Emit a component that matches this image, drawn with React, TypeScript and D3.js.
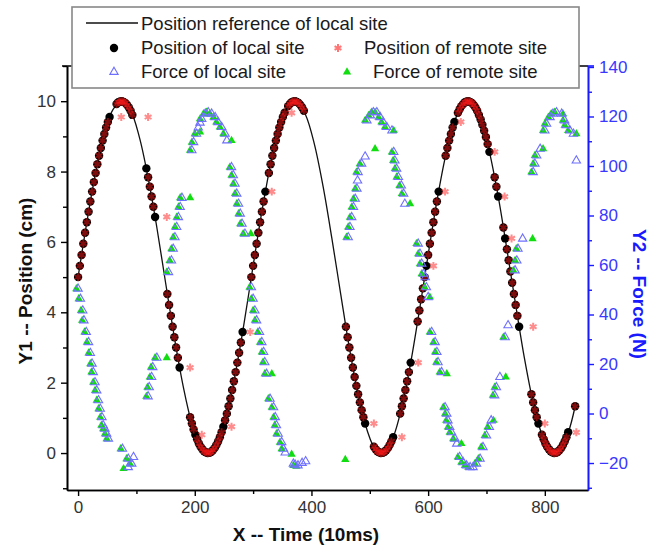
import React, { useEffect, useRef } from "react";
import * as d3 from "d3";

// reference trajectory of the local site (time in 10ms, position in cm)
const refLine: [number, number][] = [
  [0, 5.0], [15, 6.56], [30, 7.96], [45, 9.07], [60, 9.77], [75, 10.0], [90, 9.73], [105, 8.98], [120, 7.83], [135, 6.41],
  [150, 4.84], [165, 3.29], [180, 1.91], [195, 0.84], [210, 0.18], [225, 0.01], [240, 0.33], [255, 1.12], [270, 2.3], [285, 3.74],
  [300, 5.32], [315, 6.86], [330, 8.21], [345, 9.25], [360, 9.86], [375, 9.99], [390, 9.61], [405, 8.78], [420, 7.57], [435, 6.1],
  [450, 4.53], [465, 2.99], [480, 1.67], [495, 0.67], [510, 0.11], [525, 0.03], [540, 0.45], [555, 1.32], [570, 2.56], [585, 4.05],
  [600, 5.63], [615, 7.16], [630, 8.45], [645, 9.41], [660, 9.92], [675, 9.95], [690, 9.47], [705, 8.56], [720, 7.3], [735, 5.79],
  [750, 4.21], [765, 2.7], [780, 1.44], [795, 0.53], [810, 0.05], [825, 0.08], [840, 0.58], [852, 1.33],
];

const localPos: [number, number][] = [
  [0, 5.0], [3, 5.32], [6, 5.63], [9, 5.95], [12, 6.26], [15, 6.56], [18, 6.86], [21, 7.15], [24, 7.43], [27, 7.7],
  [30, 7.96], [33, 8.21], [36, 8.45], [39, 8.67], [42, 8.88], [45, 9.07], [48, 9.25], [51, 9.41], [54, 9.55],
  [66, 9.92], [69, 9.97], [72, 9.99], [75, 10.0], [78, 9.98], [81, 9.95], [84, 9.89], [87, 9.82], [90, 9.73], [93, 9.61],
  [117, 8.09], [120, 7.84], [123, 7.57], [126, 7.29], [129, 7.0], [132, 6.71],
  [153, 4.52], [156, 4.21], [159, 3.9], [162, 3.59], [165, 3.29], [168, 3.0], [171, 2.71], [174, 2.43],
  [192, 1.02], [195, 0.84], [198, 0.67], [201, 0.52], [204, 0.39], [207, 0.27], [210, 0.18], [213, 0.11], [216, 0.05], [219, 0.02],
  [222, 0.0], [225, 0.01], [228, 0.03], [231, 0.08], [234, 0.14], [237, 0.23], [240, 0.33], [243, 0.45], [246, 0.59], [249, 0.75],
  [252, 0.93], [255, 1.12], [258, 1.33], [261, 1.55], [264, 1.79], [267, 2.04], [270, 2.3], [273, 2.57], [276, 2.85], [279, 3.14], [282, 3.44],
  [297, 5.0], [300, 5.32], [303, 5.63], [306, 5.95], [309, 6.26], [312, 6.56], [315, 6.86], [318, 7.15], [321, 7.43],
  [327, 7.96], [330, 8.21], [333, 8.45], [336, 8.67], [339, 8.88], [342, 9.07], [345, 9.25], [348, 9.41], [351, 9.55], [354, 9.67],
  [360, 9.86], [363, 9.92], [366, 9.97], [369, 9.99], [372, 10.0], [375, 9.98], [378, 9.95], [381, 9.89], [384, 9.82], [387, 9.73],
  [459, 3.59], [462, 3.29], [465, 3.0], [468, 2.71], [471, 2.43], [474, 2.16], [477, 1.91], [480, 1.67], [483, 1.44], [486, 1.22], [489, 1.02], [492, 0.84],
  [507, 0.18], [510, 0.11], [513, 0.05], [516, 0.02], [519, 0.0], [522, 0.01], [525, 0.03], [528, 0.08], [531, 0.14], [534, 0.23], [537, 0.33], [540, 0.45],
  [552, 1.12], [555, 1.33], [558, 1.55], [561, 1.79], [564, 2.04], [567, 2.3], [570, 2.57],
  [582, 3.74], [585, 4.05], [588, 4.37], [591, 4.68], [594, 5.0], [597, 5.32], [600, 5.63], [603, 5.95], [606, 6.26], [609, 6.56], [612, 6.86], [615, 7.15], [618, 7.43],
  [630, 8.45], [633, 8.67], [636, 8.88], [639, 9.07], [642, 9.25], [645, 9.41],
  [651, 9.67], [654, 9.77], [657, 9.86], [660, 9.92], [663, 9.97], [666, 9.99], [669, 10.0], [672, 9.98], [675, 9.95], [678, 9.89], [681, 9.82], [684, 9.73],
  [687, 9.61], [690, 9.48], [693, 9.33], [696, 9.16], [699, 8.98], [702, 8.78], [705, 8.56],
  [714, 7.84], [717, 7.57], [720, 7.29],
  [729, 6.41], [732, 6.1], [735, 5.79], [738, 5.48], [741, 5.16], [744, 4.84], [747, 4.52], [750, 4.21], [753, 3.9], [756, 3.59],
  [777, 1.67], [780, 1.44], [783, 1.22], [786, 1.02], [789, 0.84],
  [795, 0.52], [798, 0.39], [801, 0.27], [804, 0.18], [807, 0.11], [810, 0.05], [813, 0.02], [816, 0.0], [819, 0.01], [822, 0.03],
  [825, 0.08], [828, 0.14], [831, 0.23], [834, 0.33], [837, 0.45], [840, 0.59],
  [852, 1.33],
];

const remotePos: [number, number][] = [
  [0, 5.0], [3, 5.32], [6, 5.63], [9, 5.95], [12, 6.26], [15, 6.56], [18, 6.86], [21, 7.15], [24, 7.43], [27, 7.7],
  [30, 7.96], [33, 8.21], [36, 8.45], [39, 8.67], [42, 8.88], [45, 9.07], [48, 9.25], [51, 9.41], [74, 9.55],
  [66, 9.92], [69, 9.97], [72, 9.99], [75, 10.0], [78, 9.98], [81, 9.95], [84, 9.89], [87, 9.82], [90, 9.73], [93, 9.61],
  [120, 9.55], [120, 7.84], [123, 7.57], [126, 7.29], [129, 7.0], [152, 6.71],
  [153, 4.52], [156, 4.21], [159, 3.9], [162, 3.59], [165, 3.29], [168, 3.0], [171, 2.71], [192, 2.43],
  [192, 1.02], [195, 0.84], [198, 0.67], [212, 0.52], [204, 0.39], [207, 0.27], [210, 0.18], [213, 0.11], [216, 0.05], [219, 0.02],
  [222, 0.0], [225, 0.01], [228, 0.03], [231, 0.08], [234, 0.14], [237, 0.23], [240, 0.33], [243, 0.45], [246, 0.59], [263, 0.75],
  [252, 0.93], [255, 1.12], [258, 1.33], [261, 1.55], [264, 1.79], [267, 2.04], [270, 2.3], [273, 2.57], [276, 2.85], [279, 3.14], [295, 3.44],
  [297, 5.0], [300, 5.32], [303, 5.63], [306, 5.95], [309, 6.26], [312, 6.56], [315, 6.86], [318, 7.15], [332, 7.43],
  [327, 7.96], [330, 8.21], [333, 8.45], [336, 8.67], [339, 8.88], [342, 9.07], [345, 9.25], [348, 9.41], [351, 9.55], [354, 9.67], [366, 9.67],
  [360, 9.86], [363, 9.92], [366, 9.97], [369, 9.99], [372, 10.0], [375, 9.98], [378, 9.95], [381, 9.89], [384, 9.82], [387, 9.73],
  [459, 3.59], [462, 3.29], [465, 3.0], [468, 2.71], [471, 2.43], [474, 2.16], [477, 1.91], [480, 1.67], [483, 1.44], [486, 1.22], [489, 1.02], [507, 0.84],
  [507, 0.18], [510, 0.11], [513, 0.05], [516, 0.02], [519, 0.0], [522, 0.01], [525, 0.03], [528, 0.08], [531, 0.14], [534, 0.23], [537, 0.33], [555, 0.45],
  [552, 1.12], [555, 1.33], [558, 1.55], [561, 1.79], [564, 2.04], [567, 2.3], [583, 2.57],
  [582, 3.74], [585, 4.05], [588, 4.37], [591, 4.68], [594, 5.0], [609, 5.32], [600, 5.63], [603, 5.95], [606, 6.26], [609, 6.56], [612, 6.86], [615, 7.15], [629, 7.43],
  [630, 8.45], [633, 8.67], [636, 8.88], [639, 9.07], [642, 9.25], [656, 9.41],
  [651, 9.67], [654, 9.77], [657, 9.86], [660, 9.92], [663, 9.97], [666, 9.99], [669, 10.0], [672, 9.98], [675, 9.95], [678, 9.89], [681, 9.82], [684, 9.73],
  [687, 9.61], [690, 9.48], [693, 9.33], [696, 9.16], [699, 8.98], [702, 8.78], [714, 8.56],
  [714, 7.84], [717, 7.57], [731, 7.29],
  [729, 6.41], [743, 6.1], [735, 5.79], [738, 5.48], [741, 5.16], [744, 4.84], [747, 4.52], [750, 4.21], [753, 3.9], [780, 3.59],
  [777, 1.67], [780, 1.44], [783, 1.22], [786, 1.02], [800, 0.84],
  [795, 0.52], [798, 0.39], [801, 0.27], [804, 0.18], [807, 0.11], [810, 0.05], [813, 0.02], [816, 0.0], [819, 0.01], [822, 0.03],
  [825, 0.08], [828, 0.14], [831, 0.23], [834, 0.33], [837, 0.45], [854, 0.59],
  [852, 1.33],
];

// force (N)
const localForce: [number, number][] = [
  [0, 50.4], [4, 46.3], [8, 41.6], [10, 37.6], [14, 32.9], [18, 28.8], [21, 24.4], [24, 20.1], [26, 16.7], [29, 12.6],
  [32, 9.3], [35, 5.3], [38, 1.9], [41, -1.5], [43, -4.8], [46, -6.2], [49, -8.2], [52, -10.2],
  [76, -14.3], [86, -18.3], [95, -17.6], [92, -20.3], [86, -21.7],
  [120, 6.9], [122, 10.6], [126, 14.7], [128, 18.7], [135, 22.5],
  [155, 57.1], [160, 61.8], [163, 66.5], [166, 71.2], [169, 75.3], [172, 79.3], [175, 83.4], [178, 87.1],
  [195, 106.3], [198, 109.6], [203, 113.0], [206, 115.5], [209, 117.5], [212, 119.0], [218, 121.1], [223, 121.7], [229, 121.1],
  [235, 119.7], [240, 117.7], [246, 115.7], [252, 113.0], [255, 110.3],
  [263, 99.5], [266, 96.2], [269, 92.8], [272, 88.8], [275, 84.7], [278, 80.7], [281, 76.6], [286, 72.6],
  [297, 51.0], [300, 46.3], [303, 41.6], [306, 37.6], [311, 32.9], [315, 28.8], [318, 24.8], [320, 20.7], [323, 16.0],
  [329, 5.9], [335, 2.5], [338, -1.5], [340, -4.8], [343, -8.2], [349, -11.6], [352, -14.3], [355, -15.8],
  [369, -20.3], [372, -20.7], [377, -21.0], [384, -20.0], [390, -19.3],
  [463, 71.2], [466, 75.3], [469, 79.3], [472, 83.4], [475, 86.7], [478, 90.8], [479, 94.1], [480, 97.5], [486, 100.9], [492, 103.8],
  [495, 118.4], [501, 120.4], [506, 121.7], [512, 121.7], [518, 119.7], [523, 117.7], [529, 115.7], [538, 114.3],
  [541, 105.6], [543, 102.2], [546, 98.9], [549, 95.5], [554, 92.1], [558, 88.8], [560, 84.7],
  [583, 68.6], [586, 64.5], [589, 60.5], [592, 56.4], [595, 55.0], [597, 51.0], [600, 47.0],
  [606, 32.9], [612, 28.8], [615, 24.8], [617, 20.7], [623, 16.7],
  [629, 2.5], [632, -0.1], [634, -2.8], [637, -5.5], [640, -7.6], [646, -10.2], [649, -12.2],
  [654, -17.6], [660, -19.7], [666, -21.0], [672, -21.7], [677, -21.7], [683, -20.3], [689, -18.3], [694, -13.6], [700, -8.9], [705, -5.5], [708, -2.8],
  [714, 7.3], [717, 10.6], [723, 14.7],
  [732, 30.8], [737, 35.6], [749, 57.8], [752, 61.8], [754, 66.5], [762, 70.6],
  [780, 97.5], [783, 100.9], [786, 104.2], [792, 106.9],
  [800, 114.3], [803, 117.0], [809, 119.7], [814, 121.1], [820, 121.7], [829, 121.1], [834, 118.4], [837, 116.4], [843, 114.3], [849, 113.0],
  [854, 102.2],
];

const remoteForce: [number, number][] = [
  [-3, 50.4], [1, 46.3], [5, 41.6], [7, 37.6], [11, 32.9], [15, 28.8], [18, 24.4], [21, 20.1], [23, 16.7], [26, 12.6],
  [29, 9.3], [32, 5.3], [35, 1.9], [38, -1.5], [40, -4.8], [43, -6.2], [46, -8.2], [49, -10.2],
  [73, -14.3], [83, -18.3], [89, -20.3], [78, -22.3],
  [117, 6.9], [119, 10.6], [123, 14.7], [125, 18.7], [132, 22.5], [152, 22.5],
  [152, 57.1], [157, 61.8], [160, 66.5], [163, 71.2], [166, 75.3], [169, 79.3], [172, 83.4], [175, 87.1], [192, 87.1],
  [192, 106.3], [195, 109.6], [200, 113.0], [209, 113.7], [209, 119.0], [215, 121.1], [220, 121.7], [226, 121.1],
  [232, 119.7], [237, 117.7], [243, 115.7], [249, 113.0], [263, 110.3],
  [260, 99.5], [263, 96.2], [266, 92.8], [269, 88.8], [272, 84.7], [275, 80.7], [278, 76.6], [283, 72.6], [296, 72.6],
  [294, 51.0], [297, 46.3], [300, 41.6], [303, 37.6], [308, 32.9], [312, 28.8], [315, 24.8], [317, 20.7], [320, 16.0], [332, 16.0],
  [326, 5.9], [332, 2.5], [335, -1.5], [337, -4.8], [340, -8.2], [346, -11.6], [349, -14.3], [366, -16.5], [369, -21.0], [374, -21.3],
  [458, -18.6],
  [460, 71.2], [463, 75.3], [466, 79.3], [469, 83.4], [472, 86.7], [475, 90.8], [477, 97.5], [483, 100.9], [509, 106.9],
  [492, 118.4], [498, 120.4], [503, 121.7], [509, 121.7], [515, 119.7], [520, 117.7], [526, 115.7], [541, 114.3],
  [538, 105.6], [540, 102.2], [543, 98.9], [546, 95.5], [551, 92.1], [555, 88.8], [569, 84.7],
  [580, 68.6], [583, 64.5], [586, 60.5], [589, 56.4], [594, 51.0], [603, 47.0],
  [603, 32.9], [609, 28.8], [612, 24.8], [614, 20.7], [620, 16.7], [632, 16.0],
  [626, 2.5], [629, -0.1], [631, -2.8], [634, -5.5], [637, -7.6], [643, -10.2], [657, -12.2],
  [651, -17.6], [657, -19.7], [663, -21.0], [669, -21.7], [680, -20.3], [686, -18.3], [691, -13.6], [697, -8.9], [702, -5.5], [712, -2.8],
  [711, 7.3], [714, 10.6], [733, 14.7],
  [729, 30.8], [746, 57.8], [749, 61.8], [751, 66.5], [779, 70.6],
  [777, 97.5], [780, 100.9], [783, 104.2], [797, 106.9],
  [797, 114.3], [800, 117.0], [806, 119.7], [811, 121.1], [817, 121.7], [831, 121.1], [831, 118.4], [834, 116.4], [840, 114.3], [854, 113.0],
];

const xTicks = [0, 200, 400, 600, 800];
const xMinor = [100, 300, 500, 700];
const y1Ticks = [0, 2, 4, 6, 8, 10];
const y1Minor = [-1, 1, 3, 5, 7, 9, 11];
const y2Ticks = [-20, 0, 20, 40, 60, 80, 100, 120, 140];
const y2Minor = [-30, -10, 10, 30, 50, 70, 90, 110, 130];

const FONT = "'Liberation Sans', Arial, Helvetica, sans-serif";
const BLUE = "#1a1aff";
const STAR_RED = "#ff1a1a";
const TRI_BLUE = "#6f6fff";
const TRI_GREEN = "#11dd11";

function App() {
  const svgRef = useRef<SVGSVGElement>(null);

  useEffect(() => {
    const svg = d3.select(svgRef.current);
    svg.selectAll("*").remove();

    const x = d3.scaleLinear().domain([-19, 874]).range([67, 588]);
    const y1 = d3.scaleLinear().domain([-1.05, 11]).range([490, 66]);
    const y2 = d3.scaleLinear().domain([-30.9, 140.4]).range([490, 66]);

    // reference line
    const line = d3
      .line<[number, number]>()
      .x((d) => x(d[0]))
      .y((d) => y1(d[1]))
      .curve(d3.curveCatmullRom);
    svg.append("path")
      .datum(refLine)
      .attr("d", line)
      .attr("fill", "none")
      .attr("stroke", "#111")
      .attr("stroke-width", 1.3);

    const star = d3.symbol().type(d3.symbolAsterisk).size(44);
    const tri = d3.symbol().type(d3.symbolTriangle).size(30);

    // local position
    svg.append("g")
      .selectAll("circle")
      .data(localPos)
      .join("circle")
      .attr("cx", (d) => x(d[0]))
      .attr("cy", (d) => y1(d[1]))
      .attr("r", 4.2)
      .attr("fill", "#000");

    // remote position, semi transparent so overlapped dots turn dark red
    svg.append("g")
      .selectAll("path")
      .data(remotePos)
      .join("path")
      .attr("d", star)
      .attr("transform", (d) => `translate(${x(d[0])},${y1(d[1])})`)
      .attr("fill", "none")
      .attr("stroke", STAR_RED)
      .attr("stroke-opacity", 0.5)
      .attr("stroke-width", 2);

    // remote force (green) then local force (blue open)
    svg.append("g")
      .selectAll("path")
      .data(remoteForce)
      .join("path")
      .attr("d", tri)
      .attr("transform", (d) => `translate(${x(d[0])},${y2(d[1])})`)
      .attr("fill", TRI_GREEN);

    svg.append("g")
      .selectAll("path")
      .data(localForce)
      .join("path")
      .attr("d", tri)
      .attr("transform", (d) => `translate(${x(d[0])},${y2(d[1])})`)
      .attr("fill", "none")
      .attr("stroke", TRI_BLUE)
      .attr("stroke-width", 1.1);

    // axes
    const styleAxis = (g: any, color: string, textColor: string) => {
      g.selectAll("path").attr("stroke", color).attr("stroke-width", 1.6);
      g.selectAll("line").attr("stroke", color).attr("stroke-width", 1.4);
      g.selectAll("text").attr("fill", textColor).style("font-family", FONT).style("font-size", "17px");
    };

    const gx = svg.append("g").attr("transform", "translate(0,490)")
      .call(d3.axisBottom(x).tickValues(xTicks).tickSize(6).tickSizeOuter(0).tickPadding(5));
    styleAxis(gx, "#000", "#333");
    const gxm = svg.append("g").attr("transform", "translate(0,490)")
      .call(d3.axisBottom(x).tickValues(xMinor).tickSize(4).tickSizeOuter(0).tickFormat(() => ""));
    styleAxis(gxm, "#000", "#333");

    const gy = svg.append("g").attr("transform", "translate(67,0)")
      .call(d3.axisLeft(y1).tickValues(y1Ticks).tickSize(6).tickSizeOuter(0).tickPadding(5));
    styleAxis(gy, "#000", "#333");
    const gym = svg.append("g").attr("transform", "translate(67,0)")
      .call(d3.axisLeft(y1).tickValues(y1Minor).tickSize(4).tickSizeOuter(0).tickFormat(() => ""));
    styleAxis(gym, "#000", "#333");

    const gr = svg.append("g").attr("transform", "translate(588,0)")
      .call(d3.axisRight(y2).tickValues(y2Ticks).tickSize(6).tickSizeOuter(0).tickPadding(5));
    styleAxis(gr, BLUE, "#3838ff");
    const grm = svg.append("g").attr("transform", "translate(588,0)")
      .call(d3.axisRight(y2).tickValues(y2Minor).tickSize(4).tickSizeOuter(0).tickFormat(() => ""));
    styleAxis(grm, BLUE, "#3838ff");

    // top frame
    svg.append("line").attr("x1", 62).attr("x2", 588).attr("y1", 66).attr("y2", 66)
      .attr("stroke", "#000").attr("stroke-width", 1.6);
    svg.append("line").attr("x1", 588).attr("x2", 594).attr("y1", 66).attr("y2", 66)
      .attr("stroke", BLUE).attr("stroke-width", 1.6);

    // axis titles
    svg.append("text")
      .attr("x", 306).attr("y", 541)
      .attr("text-anchor", "middle")
      .style("font-family", FONT).style("font-size", "19px").style("font-weight", "bold")
      .attr("fill", "#111")
      .text("X -- Time (10ms)");
    svg.append("text")
      .attr("transform", "translate(32,281) rotate(-90)")
      .attr("text-anchor", "middle")
      .style("font-family", FONT).style("font-size", "19px").style("font-weight", "bold")
      .attr("fill", "#111")
      .text("Y1 -- Position (cm)");
    svg.append("text")
      .attr("transform", "translate(633,294) rotate(90)")
      .attr("text-anchor", "middle")
      .style("font-family", FONT).style("font-size", "19px").style("font-weight", "bold")
      .attr("fill", BLUE)
      .text("Y2 -- Force (N)");

    // legend
    const lg = svg.append("g");
    lg.append("rect").attr("x", 72).attr("y", 7).attr("width", 507).attr("height", 81)
      .attr("fill", "#fff").attr("stroke", "#888").attr("stroke-width", 1.6);
    lg.append("line").attr("x1", 86).attr("x2", 138).attr("y1", 23).attr("y2", 23)
      .attr("stroke", "#111").attr("stroke-width", 1.3);
    lg.append("circle").attr("cx", 114).attr("cy", 48).attr("r", 4.2).attr("fill", "#000");
    lg.append("path").attr("d", star).attr("transform", "translate(338,48)")
      .attr("fill", "none").attr("stroke", STAR_RED).attr("stroke-opacity", 0.6).attr("stroke-width", 2);
    lg.append("path").attr("d", tri).attr("transform", "translate(114,72)")
      .attr("fill", "none").attr("stroke", TRI_BLUE).attr("stroke-width", 1.1);
    lg.append("path").attr("d", tri).attr("transform", "translate(347,72)").attr("fill", TRI_GREEN);

    const legendText: [number, number, string][] = [
      [141, 30, "Position reference of local site"],
      [141, 54, "Position of local site"],
      [364, 54, "Position of remote site"],
      [141, 78, "Force of local site"],
      [373, 78, "Force of remote site"],
    ];
    lg.selectAll("text.lt")
      .data(legendText)
      .join("text")
      .attr("class", "lt")
      .attr("x", (d) => d[0])
      .attr("y", (d) => d[1])
      .style("font-family", FONT).style("font-size", "18.5px")
      .attr("fill", "#1a1a1a")
      .text((d) => d[2]);
  }, []);

  return (
    <svg
      ref={svgRef}
      width={657}
      height={547}
      style={{ position: "absolute", left: 0, top: 0, background: "#fff" }}
    />
  );
}

export default App;
